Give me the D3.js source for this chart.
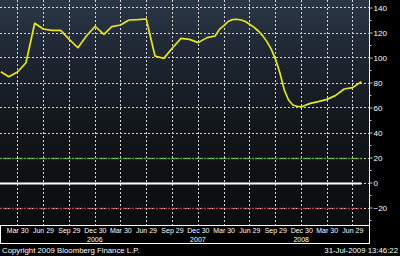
<!DOCTYPE html>
<html><head><meta charset="utf-8">
<script src="https://cdn.jsdelivr.net/npm/d3@7"></script>
<style>html,body{margin:0;padding:0;background:#000;}svg{display:block;}</style>
</head><body>
<svg id="c" width="400" height="256"></svg>
<script>
const dates = ["2006-01-31","2006-02-28","2006-03-31","2006-04-30","2006-05-31","2006-06-30","2006-07-31","2006-08-31","2006-09-30","2006-10-31","2006-11-30","2006-12-31",
"2007-01-31","2007-02-28","2007-03-31","2007-04-30","2007-05-31","2007-06-30","2007-07-31","2007-08-31","2007-09-30","2007-10-31","2007-11-30","2007-12-31",
"2008-01-31","2008-02-29","2008-03-15","2008-03-31","2008-04-15","2008-04-30","2008-05-15","2008-05-31","2008-06-15","2008-06-30","2008-07-15","2008-07-31","2008-08-15","2008-08-31","2008-09-15","2008-09-30","2008-10-15","2008-10-31","2008-11-15","2008-11-30","2008-12-15","2008-12-31",
"2009-01-31","2009-02-28","2009-03-31","2009-04-30","2009-05-31","2009-06-30","2009-07-31"];
const values = [88.6,84.6,88.4,95.8,127.4,122.8,121.7,121.7,114.5,107.8,117.2,125,
118.5,124.7,126,130,130.3,130.8,101.2,99.3,107.4,115.3,114.5,111.9,
115.9,117.2,122.5,125.5,128.8,130.3,130.6,130,128.8,126.6,124.3,121.2,117.5,112.5,106.5,98.5,88,74,66,62,61,60.6,
63.3,64.7,66.5,69.5,74.8,75.9,80.7];
const xTickDates = ["2006-03-30","2006-06-29","2006-09-29","2006-12-30","2007-03-30","2007-06-29","2007-09-29","2007-12-30","2008-03-30","2008-06-29","2008-09-29","2008-12-30","2009-03-30","2009-06-29"];
const xTickLabels = ["Mar 30","Jun 29","Sep 29","Dec 30","Mar 30","Jun 29","Sep 29","Dec 30","Mar 30","Jun 29","Sep 29","Dec 30","Mar 30","Jun 29"];
const yearDates = ["2006-12-30","2007-12-30","2008-12-30"];
const yearLabels = ["2006","2007","2008"];
const yMajor = [140,120,100,80,60,40,20,0,-20];
const yMinor = [130,110,90,70,50,30,10,-10,-30];
const refLines = [{v:20,c:"#4aa82e",dash:"2,1",w:1.6},{v:0,c:"#ffffff",dash:null,w:2},{v:-20,c:"#b0363e",dash:"2,1",w:1.6}];
const copyright = "Copyright 2009 Bloomberg Finance L.P.";
const stamp = "31-Jul-2009 13:46:22";

const P = d3.timeParse("%Y-%m-%d");
const svg = d3.select("#c");
const L = 0, R = 369, T = 0, B = 225;
const FONT = "Liberation Sans, Arial, sans-serif";
const x = d3.scaleTime().domain([P("2006-01-28"), P("2009-08-27")]).range([L, R]);
const y = d3.scaleLinear().domain([-34, 146]).range([B, T]);

svg.append("rect").attr("width",400).attr("height",256).attr("fill","#000");
const defs = svg.append("defs");
const g = defs.append("linearGradient").attr("id","bg").attr("x1",0).attr("y1",0).attr("x2",0).attr("y2",1);
g.append("stop").attr("offset","0%").attr("stop-color","#2b3747");
g.append("stop").attr("offset","30%").attr("stop-color","#1b232d");
g.append("stop").attr("offset","60%").attr("stop-color","#111519");
g.append("stop").attr("offset","100%").attr("stop-color","#0b0d0f");
svg.append("rect").attr("x",L).attr("y",T).attr("width",R-L).attr("height",B-T).attr("fill","url(#bg)");

const grid = svg.append("g");
grid.selectAll("line.v").data(xTickDates).join("line")
  .attr("x1",d=>Math.round(x(P(d)))+0.5).attr("x2",d=>Math.round(x(P(d)))+0.5)
  .attr("y1",T).attr("y2",B)
  .attr("stroke","#d4d4d4").attr("stroke-width",1).attr("stroke-dasharray","2,2");
grid.selectAll("line.h").data(yMajor).join("line")
  .attr("x1",L).attr("x2",R+3)
  .attr("y1",d=>Math.round(y(d))+0.5).attr("y2",d=>Math.round(y(d))+0.5)
  .attr("stroke","#d4d4d4").attr("stroke-width",1).attr("stroke-dasharray","2,2");

const lastX = x(P(dates[dates.length-1]));
svg.selectAll("line.ref").data(refLines).join("line")
  .attr("x1",L).attr("x2",lastX)
  .attr("y1",d=>Math.round(y(d.v))+0.5).attr("y2",d=>Math.round(y(d.v))+0.5)
  .attr("stroke",d=>d.c).attr("stroke-width",d=>d.w)
  .attr("stroke-dasharray",d=>d.dash);

const data = dates.map((d,i)=>({d:P(d),v:values[i]}));
svg.append("path").datum(data)
  .attr("fill","none").attr("stroke","#e6e61e").attr("stroke-width",1.7)
  .attr("stroke-linejoin","round")
  .attr("d", d3.line().x(d=>x(d.d)).y(d=>y(d.v)));

const yAxis = d3.axisRight(y).tickValues(yMajor).tickSize(3).tickPadding(1).tickFormat(d3.format("d"));
const ax = svg.append("g").attr("transform",`translate(${R+0.5},0)`).call(yAxis);
ax.select(".domain").attr("stroke","#fff").attr("d",`M0,${T}V${B}`);
ax.selectAll(".tick line").attr("stroke","#ccc");
ax.selectAll(".tick text").attr("fill","#fff").attr("font-family",FONT).attr("font-size","8px");
const axMinor = d3.axisRight(y).tickValues(yMinor).tickSize(2).tickFormat("");
const am = svg.append("g").attr("transform",`translate(${R+0.5},0)`).call(axMinor);
am.select(".domain").remove();
am.selectAll(".tick line").attr("stroke","#ccc");

svg.append("rect").attr("x",0.5).attr("y",B+0.5).attr("width",R).attr("height",18)
  .attr("fill","none").attr("stroke","#fff").attr("stroke-width",1);
const xAxis = d3.axisBottom(x).tickValues(xTickDates.map(P)).tickSize(0).tickPadding(3)
  .tickFormat((d,i)=>xTickLabels[i]);
const bx = svg.append("g").attr("transform",`translate(0,${B})`).call(xAxis);
bx.select(".domain").remove();
bx.selectAll(".tick text").attr("fill","#fff").attr("font-family",FONT).attr("font-size","7px");
svg.selectAll("text.yr").data(yearDates).join("text")
  .attr("x",d=>x(P(d))).attr("y",B+16.5).attr("text-anchor","middle")
  .attr("fill","#fff").attr("font-family",FONT).attr("font-size","7px")
  .text((d,i)=>yearLabels[i]);

svg.append("text").attr("x",2).attr("y",253).attr("fill","#fff")
  .attr("font-family",FONT).attr("font-size","7.8px").text(copyright);
svg.append("text").attr("x",398).attr("y",253).attr("text-anchor","end").attr("fill","#fff")
  .attr("font-family",FONT).attr("font-size","7.8px").text(stamp);
</script>
</body></html>
